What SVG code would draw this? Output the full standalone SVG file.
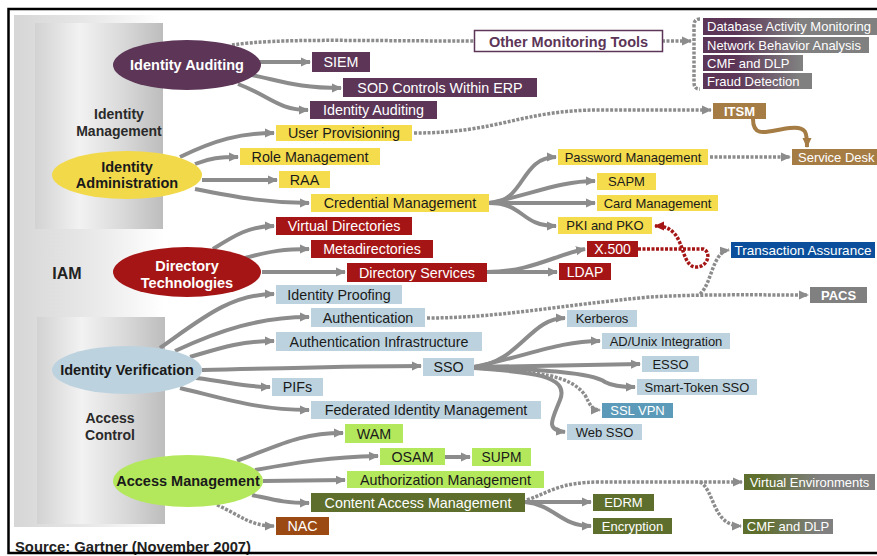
<svg xmlns="http://www.w3.org/2000/svg" width="877" height="556" viewBox="0 0 877 556">
<defs>
<linearGradient id="outerG" x1="0" y1="0" x2="1" y2="0"><stop offset="0" stop-color="#d6d6d6"/><stop offset="0.6" stop-color="#ececec"/><stop offset="1" stop-color="#ffffff"/></linearGradient>
<linearGradient id="panelG" x1="0" y1="0" x2="1" y2="0"><stop offset="0" stop-color="#d2d2d2"/><stop offset="0.35" stop-color="#f2f2f2"/><stop offset="0.7" stop-color="#d8d8d8"/><stop offset="1" stop-color="#bdbdbd"/></linearGradient>
<linearGradient id="purGray" gradientUnits="userSpaceOnUse" x1="735" y1="0" x2="800" y2="0"><stop offset="0" stop-color="#5c3557"/><stop offset="1" stop-color="#808080"/></linearGradient>
<linearGradient id="oliGray" gradientUnits="userSpaceOnUse" x1="760" y1="0" x2="820" y2="0"><stop offset="0" stop-color="#5e6e2c"/><stop offset="1" stop-color="#808080"/></linearGradient>
<marker id="ag" markerUnits="userSpaceOnUse" markerWidth="11" markerHeight="10" refX="9" refY="5" orient="auto"><path d="M0,0.5 L10,5 L0,9.5 z" fill="#8c8c8c"/></marker>
<marker id="ar" markerUnits="userSpaceOnUse" markerWidth="11" markerHeight="10" refX="9" refY="5" orient="auto"><path d="M0,0.5 L10,5 L0,9.5 z" fill="#a51515"/></marker>
<marker id="ab" markerUnits="userSpaceOnUse" markerWidth="11" markerHeight="10" refX="9" refY="5" orient="auto"><path d="M0,0.5 L10,5 L0,9.5 z" fill="#a67c45"/></marker>
</defs>
<style>
text{font-family:"Liberation Sans",Arial,sans-serif;font-size:13px}
.c{text-anchor:middle}
.b{font-weight:bold}
.L{font-size:14.3px}
.E{font-size:14.5px;font-weight:bold}
.w{fill:#ffffff}
.d{fill:#1a1a1a}
.pur{fill:#5c3557}
.yel{fill:#f5dc4c}
.red{fill:#a51515}
.lb{fill:#bcd3df}
.grn{fill:#b4e85c}
.oli{fill:#5e6e2c}
.gry{fill:#808080}
.tan{fill:#a67c45}
.s{fill:none;stroke:#8c8c8c;stroke-width:4;marker-end:url(#ag)}
.dt{fill:none;stroke:#8c8c8c;stroke-width:3.5;stroke-dasharray:3 1.5;marker-end:url(#ag)}
.dn{fill:none;stroke:#8c8c8c;stroke-width:3.5;stroke-dasharray:3 1.5}
.lbl{font-size:14px;font-weight:bold;fill:#2a2a2a}
</style>
<rect x="0" y="0" width="877" height="556" fill="#ffffff"/>
<g id="background">
<rect x="14" y="15" width="150" height="512" fill="url(#outerG)"/>
<rect x="35" y="23" width="128" height="206" fill="url(#panelG)"/>
<rect x="37" y="317" width="128" height="207" fill="url(#panelG)"/>
<text class="c lbl" x="119" y="119">Identity</text>
<text class="c lbl" x="119" y="136">Management</text>
<text class="c b" x="67" y="279" style="font-size:16px;fill:#222">IAM</text>
<text class="c lbl" x="110" y="423">Access</text>
<text class="c lbl" x="110" y="440">Control</text>
<text class="b" x="15" y="552" style="fill:#222;font-size:14.8px">Source: Gartner (November 2007)</text>
</g>
<g id="connectors">
<path class="s" d="M259,62 L310,62"/>
<path class="s" d="M252,75 C285,82 300,88 341,88"/>
<path class="s" d="M238,84 C270,96 278,110 308,110"/>
<path class="dn" d="M232,45 C280,38 350,41 474,41"/>
<path class="dt" d="M662,41 L691,41"/>
<path class="dn" d="M700,19 C695,19 694,22 694,26 L694,82 C694,86 695,89 700,89"/>
<path class="s" d="M180,157 C215,140 240,133 274,133"/>
<path class="s" d="M195,164 C210,158 220,157 238,157"/>
<path class="s" d="M202,180 L277,180"/>
<path class="s" d="M195,189 C240,198 270,203 309,203"/>
<path class="s" d="M489,203 C525,203 520,157 556,157"/>
<path class="s" d="M489,203 C530,195 560,181 595,181"/>
<path class="s" d="M489,203 L595,203"/>
<path class="s" d="M489,203 C525,203 520,226 556,226"/>
<path class="dt" d="M414,133 C500,133 520,110 600,110 L711,110"/>
<path class="dt" d="M710,157 L790,157"/>
<path d="M753,119 C753,140 770,130 790,128 C807,126 807,133 807,147" fill="none" stroke="#a67c45" stroke-width="4" marker-end="url(#ab)"/>
<path class="s" d="M213,249 C235,235 250,226 274,226"/>
<path class="s" d="M245,258 C270,251 285,249 309,249"/>
<path class="s" d="M262,272 L345,272"/>
<path class="s" d="M487,272 C530,272 555,255 585,249"/>
<path class="s" d="M487,272 L557,272"/>
<path d="M638,249 L703,249 C712,252 708,268 695,267 C683,265 684,244 674,233 C668,227 663,226 655,226" fill="none" stroke="#a51515" stroke-width="3.5" stroke-dasharray="3 1.5" marker-end="url(#ar)"/>
<path class="dt" d="M427,318 C500,318 560,305 650,297 C700,294 760,295 808,295"/>
<path class="dt" d="M700,294 C712,284 712,252 729,250"/>
<path class="s" d="M160,348 C200,320 230,294 274,294"/>
<path class="s" d="M175,351 C220,330 260,317 309,317"/>
<path class="s" d="M190,357 C220,348 240,341 274,341"/>
<path class="s" d="M202,370 C300,368 350,366 421,366"/>
<path class="s" d="M196,378 C230,382 245,387 270,387"/>
<path class="s" d="M180,388 C230,400 260,410 309,410"/>
<path class="s" d="M474,367 C520,362 530,318 565,318"/>
<path class="s" d="M474,367 C530,355 560,341 600,341"/>
<path class="s" d="M474,367 L640,364"/>
<path class="s" d="M474,367 C540,370 590,372 605,382 C612,386 620,387 635,387"/>
<path class="dt" d="M474,368 C540,372 570,375 585,395 C590,405 592,410 600,410"/>
<path class="s" d="M474,368 C530,372 570,375 560,400 C552,420 545,430 565,432"/>
<path class="s" d="M237,461 C280,445 300,433 343,433"/>
<path class="s" d="M255,470 C300,462 330,457 378,456"/>
<path class="s" d="M263,481 L345,480"/>
<path class="s" d="M252,495 C275,500 285,503 309,503"/>
<path class="dt" d="M217,505 C240,515 250,526 274,526"/>
<path class="s" d="M445,457 L470,457"/>
<path class="s" d="M525,502 L591,502"/>
<path class="s" d="M525,502 C555,505 560,526 591,526"/>
<path class="dt" d="M527,500 C550,492 560,482 600,482 L742,482"/>
<path class="dt" d="M700,482 C715,490 712,526 741,526"/>
</g>
<g id="n-identity-auditing"><ellipse cx="187" cy="65" rx="74" ry="25" fill="#5c3557"/><text class="c E w" x="187" y="70">Identity Auditing</text></g>
<g id="n-identity-admin"><ellipse cx="127" cy="175" rx="75" ry="24" fill="#f2d94a"/><text class="c E d" x="127" y="172">Identity</text><text class="c E d" x="127" y="188">Administration</text></g>
<g id="n-directory-tech"><ellipse cx="187" cy="272" rx="74" ry="25" fill="#a51515"/><text class="c E w" x="187" y="271">Directory</text><text class="c E w" x="187" y="288">Technologies</text></g>
<g id="n-identity-verif"><ellipse cx="127" cy="370" rx="75" ry="24" fill="#bcd3df"/><text class="c E d" x="127" y="375">Identity Verification</text></g>
<g id="n-access-mgmt"><ellipse cx="188" cy="481" rx="75" ry="26" fill="#b4e85c"/><text class="c E d" x="188" y="486">Access Management</text></g>
<g id="n-siem"><rect class="pur" x="312" y="52" width="58" height="20"/><text class="c L w" x="341" y="67">SIEM</text></g>
<g id="n-sod"><rect class="pur" x="343" y="78" width="194" height="19"/><text class="c L w" x="440" y="92.5">SOD Controls Within ERP</text></g>
<g id="n-ida-box"><rect class="pur" x="310" y="101" width="127" height="18"/><text class="c L w" x="373.5" y="115">Identity Auditing</text></g>
<g id="n-other-monitoring"><rect x="474.5" y="30.5" width="188" height="21" fill="#ffffff" stroke="#5c3557" stroke-width="1.5"/><text class="c b" x="568.5" y="46.5" style="fill:#5c3557;font-size:14.5px">Other Monitoring Tools</text></g>
<g id="n-dam"><rect x="703" y="18" width="174" height="17" fill="url(#purGray)"/><text class="w" x="707" y="31">Database Activity Monitoring</text></g>
<g id="n-nba"><rect x="703" y="37" width="166" height="16" fill="url(#purGray)"/><text class="w" x="707" y="49.5">Network Behavior Analysis</text></g>
<g id="n-cmf-top"><rect x="703" y="55" width="100" height="16" fill="url(#purGray)"/><text class="w" x="707" y="67.5">CMF and DLP</text></g>
<g id="n-fraud"><rect x="703" y="73" width="109" height="16" fill="url(#purGray)"/><text class="w" x="707" y="85.5">Fraud Detection</text></g>
<g id="n-itsm"><rect class="tan" x="713" y="103" width="53" height="16"/><text class="c w b" x="739.5" y="115.5">ITSM</text></g>
<g id="n-service-desk"><rect class="tan" x="792" y="149" width="90" height="16"/><text class="w" x="798" y="161.5">Service Desk</text></g>
<g id="n-user-prov"><rect class="yel" x="276" y="125" width="136" height="16"/><text class="c L d" x="344" y="138">User Provisioning</text></g>
<g id="n-role"><rect class="yel" x="240" y="148" width="140" height="17"/><text class="c L d" x="310" y="161.5">Role Management</text></g>
<g id="n-raa"><rect class="yel" x="279" y="171" width="51" height="17"/><text class="c L d" x="304.5" y="184.5">RAA</text></g>
<g id="n-cred"><rect class="yel" x="311" y="194" width="178" height="18"/><text class="c L d" x="400" y="208">Credential Management</text></g>
<g id="n-password"><rect class="yel" x="558" y="149" width="150" height="16"/><text class="c d" x="633" y="161.5">Password Management</text></g>
<g id="n-sapm"><rect class="yel" x="597" y="173" width="59" height="17"/><text class="c d" x="626.5" y="186">SAPM</text></g>
<g id="n-card"><rect class="yel" x="597" y="195" width="121" height="16"/><text class="c d" x="657.5" y="207.5">Card Management</text></g>
<g id="n-pki"><rect class="yel" x="558" y="217" width="94" height="17"/><text class="c d" x="605" y="230">PKI and PKO</text></g>
<g id="n-virtual-dir"><rect class="red" x="276" y="217" width="136" height="18"/><text class="c L w" x="344" y="231">Virtual Directories</text></g>
<g id="n-metadir"><rect class="red" x="311" y="240" width="122" height="18"/><text class="c L w" x="372" y="254">Metadirectories</text></g>
<g id="n-dir-services"><rect class="red" x="347" y="263" width="140" height="19"/><text class="c L w" x="417" y="277.5">Directory Services</text></g>
<g id="n-x500"><rect class="red" x="587" y="241" width="51" height="16"/><text class="c w" x="612.5" y="254" style="font-size:14px">X.500</text></g>
<g id="n-ldap"><rect class="red" x="559" y="263" width="52" height="17"/><text class="c w" x="585" y="276.5" style="font-size:14px">LDAP</text></g>
<g id="n-trans-assurance"><rect x="731" y="242" width="144" height="16" fill="#0b4f9c"/><text class="c w" x="803" y="254.5" style="font-size:13.5px">Transaction Assurance</text></g>
<g id="n-pacs"><rect class="gry" x="810" y="287" width="57" height="16"/><text class="c w b" x="838.5" y="299.5">PACS</text></g>
<g id="n-id-proofing"><rect class="lb" x="276" y="285" width="126" height="19"/><text class="c L d" x="339" y="299.5">Identity Proofing</text></g>
<g id="n-authentication"><rect class="lb" x="311" y="308" width="114" height="19"/><text class="c L d" x="368" y="322.5">Authentication</text></g>
<g id="n-auth-infra"><rect class="lb" x="276" y="332" width="206" height="19"/><text class="c L d" x="379" y="346.5">Authentication Infrastructure</text></g>
<g id="n-sso"><rect class="lb" x="423" y="358" width="51" height="18"/><text class="c L d" x="448.5" y="372">SSO</text></g>
<g id="n-pifs"><rect class="lb" x="272" y="378" width="51" height="18"/><text class="c L d" x="297.5" y="392">PIFs</text></g>
<g id="n-federated"><rect class="lb" x="311" y="401" width="230" height="18"/><text class="c L d" x="426" y="415">Federated Identity Management</text></g>
<g id="n-kerberos"><rect class="lb" x="567" y="310" width="70" height="17"/><text class="c d" x="602" y="323">Kerberos</text></g>
<g id="n-adunix"><rect class="lb" x="602" y="333" width="128" height="16"/><text class="c d" x="666" y="345.5">AD/Unix Integration</text></g>
<g id="n-esso"><rect class="lb" x="642" y="356" width="57" height="16"/><text class="c d" x="670.5" y="368.5">ESSO</text></g>
<g id="n-smart-token"><rect class="lb" x="637" y="379" width="120" height="16"/><text class="c d" x="697" y="391.5">Smart-Token SSO</text></g>
<g id="n-ssl-vpn"><rect x="602" y="403" width="71" height="15" fill="#5b9ab8"/><text class="c w" x="637.5" y="415">SSL VPN</text></g>
<g id="n-web-sso"><rect class="lb" x="567" y="424" width="75" height="16"/><text class="c d" x="604.5" y="436.5">Web SSO</text></g>
<g id="n-wam"><rect class="grn" x="345" y="424" width="58" height="19"/><text class="c L d" x="374" y="438.5">WAM</text></g>
<g id="n-osam"><rect class="grn" x="380" y="448" width="65" height="17"/><text class="c L d" x="412.5" y="461.5">OSAM</text></g>
<g id="n-supm"><rect class="grn" x="472" y="448" width="59" height="18"/><text class="c d" x="501.5" y="462" style="font-size:13.8px">SUPM</text></g>
<g id="n-authz"><rect class="grn" x="347" y="471" width="197" height="17"/><text class="c L d" x="445.5" y="484.5">Authorization Management</text></g>
<g id="n-content-access"><rect class="oli" x="311" y="493" width="214" height="19"/><text class="c L w" x="418" y="507.5">Content Access Management</text></g>
<g id="n-edrm"><rect class="oli" x="593" y="494" width="61" height="17"/><text class="c w" x="623.5" y="507">EDRM</text></g>
<g id="n-encryption"><rect class="oli" x="593" y="518" width="79" height="16"/><text class="c w" x="632.5" y="530.5">Encryption</text></g>
<g id="n-virtual-env"><rect x="744" y="474" width="131" height="16" fill="url(#oliGray)"/><text class="c w" x="809.5" y="486.5">Virtual Environments</text></g>
<g id="n-cmf-bottom"><rect x="743" y="519" width="90" height="15" fill="url(#oliGray)"/><text class="c w" x="788" y="531">CMF and DLP</text></g>
<g id="n-nac"><rect x="276" y="517" width="53" height="18" fill="#9b4a14"/><text class="c L w" x="302.5" y="531">NAC</text></g>
<rect x="8.5" y="9" width="900" height="544" fill="none" stroke="#000000" stroke-width="2.5"/>
</svg>
